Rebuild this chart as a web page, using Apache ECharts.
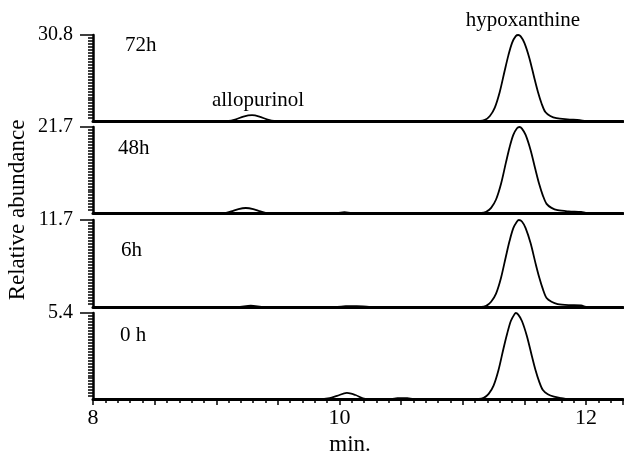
<!DOCTYPE html>
<html>
<head>
    <meta charset="utf-8" />
    <title>Chromatograms 0 h - 72h</title>
    <script src="https://cdn.jsdelivr.net/npm/echarts@6/dist/echarts.min.js"></script>
    <style>
        html, body { margin: 0; padding: 0; background: #fff; }
    </style>
</head>
<body>
    <div id="main" style="width: 624px;height:457px;"></div>
    <script type="text/javascript">
        // panels from top to bottom
        var panelNames = ['72h', '48h', '6h', '0 h'];
        var panelMax = [30.8, 21.7, 11.7, 5.4];
        var xLabels = [8, 10, 12];

        // [min, relative abundance]
        var trace72h = [
            [8, 0], [9.10, 0], [9.16, 0.6], [9.22, 1.6], [9.29, 2.1], [9.35, 1.6], [9.41, 0.6], [9.47, 0],
            [11.14, 0], [11.18, 0.4], [11.22, 1.8], [11.26, 4.8], [11.30, 10.4], [11.34, 18], [11.37, 23.5],
            [11.40, 28], [11.43, 30.4], [11.45, 30.8], [11.47, 30.3], [11.50, 28], [11.54, 22.6], [11.58, 15.5],
            [11.61, 10.4], [11.64, 6.2], [11.67, 3.2], [11.71, 1.8], [11.76, 1.0], [11.85, 0.6], [11.95, 0.3],
            [12.00, 0], [12.3, 0]
        ];
        var trace48h = [
            [8, 0], [9.06, 0], [9.12, 0.4], [9.18, 1.0], [9.24, 1.26], [9.30, 1.0], [9.36, 0.4], [9.42, 0],
            [9.98, 0], [10.04, 0.2], [10.10, 0],
            [11.15, 0], [11.19, 0.3], [11.23, 1.3], [11.27, 3.4], [11.31, 7.3], [11.35, 12.7], [11.38, 16.6],
            [11.41, 19.7], [11.44, 21.4], [11.46, 21.7], [11.48, 21.3], [11.51, 19.7], [11.55, 15.9], [11.59, 10.9],
            [11.62, 7.3], [11.65, 4.4], [11.68, 2.3], [11.72, 1.3], [11.77, 0.7], [11.86, 0.4], [11.96, 0.25],
            [12.01, 0], [12.3, 0]
        ];
        var trace6h = [
            [8, 0], [9.17, 0], [9.28, 0.18], [9.39, 0],
            [9.96, 0], [10.05, 0.1], [10.14, 0.13], [10.24, 0],
            [11.15, 0], [11.19, 0.15], [11.23, 0.7], [11.27, 1.8], [11.31, 3.9], [11.35, 6.8], [11.38, 8.9],
            [11.41, 10.6], [11.44, 11.5], [11.455, 11.7], [11.48, 11.5], [11.51, 10.6], [11.55, 8.6], [11.59, 5.9],
            [11.62, 4.0], [11.65, 2.4], [11.68, 1.2], [11.72, 0.7], [11.77, 0.4], [11.86, 0.25], [11.96, 0.2],
            [12.01, 0], [12.3, 0]
        ];
        var trace0h = [
            [8, 0], [9.83, 0], [9.92, 0.06], [9.98, 0.2], [10.06, 0.38], [10.13, 0.25], [10.21, 0],
            [10.42, 0], [10.47, 0.05], [10.55, 0.05], [10.60, 0],
            [11.13, 0], [11.17, 0.07], [11.21, 0.32], [11.25, 0.84], [11.29, 1.82], [11.33, 3.16], [11.36, 4.1],
            [11.39, 4.9], [11.42, 5.33], [11.43, 5.4], [11.45, 5.3], [11.48, 4.9], [11.52, 3.96], [11.56, 2.72],
            [11.59, 1.82], [11.62, 1.09], [11.65, 0.56], [11.69, 0.3], [11.74, 0.15], [11.80, 0.06],
            [11.85, 0], [12.3, 0]
        ];
        var traces = [trace72h, trace48h, trace6h, trace0h];

        var serif = '"Liberation Serif", "DejaVu Serif", serif';
        var gridTops = [35, 127, 220, 313];
        var gridHeights = [86, 86, 87, 86];
        var black = { color: '#000', width: 1.5 };

        var myChart = echarts.init(document.getElementById('main'));

        var grids = [], xAxes = [], yAxes = [], series = [];
        for (var i = 0; i < 4; i++) {
            var last = i === 3;
            grids.push({
                left: 93, right: 1, top: gridTops[i], height: gridHeights[i],
                containLabel: false, outerBoundsMode: 'none'
            });
            xAxes.push({
                type: 'value', gridIndex: i, min: 8, max: 12.3, interval: 0.5,
                axisLine: { lineStyle: { color: '#000', width: 3 } },
                axisTick: { show: last, length: 6, lineStyle: black },
                minorTick: { show: last, splitNumber: 5, length: 4, lineStyle: black },
                axisLabel: {
                    show: last, margin: 8, color: '#000', fontFamily: serif, fontSize: 22,
                    formatter: function (v) { return xLabels.indexOf(v) >= 0 ? String(v) : ''; }
                },
                splitLine: { show: false }
            });
            // dense minor ticks along the panel
            yAxes.push({
                type: 'value', gridIndex: i, position: 'left', min: 0, max: panelMax[i],
                interval: panelMax[i],
                axisLine: { show: true, lineStyle: { color: '#000', width: 2.5 } },
                axisTick: { show: false },
                minorTick: { show: true, splitNumber: 29, length: 5, lineStyle: black },
                axisLabel: { show: false },
                splitLine: { show: false }
            });
            // long tick + full-scale label at top
            yAxes.push({
                type: 'value', gridIndex: i, position: 'left', min: 0, max: panelMax[i],
                axisLine: { show: false },
                axisTick: { show: true, length: 13, customValues: [panelMax[i]], lineStyle: black },
                axisLabel: {
                    show: true, margin: 20, color: '#000', fontFamily: serif, fontSize: 20,
                    customValues: [panelMax[i]],
                    formatter: function (v) { return v.toFixed(1); }
                },
                splitLine: { show: false }
            });
            series.push({
                type: 'line', xAxisIndex: i, yAxisIndex: i * 2,
                data: traces[i], showSymbol: false, smooth: 0.3, clip: false,
                lineStyle: { color: '#000', width: 1.8 }, silent: true
            });
        }

        function label(text, x, y, size, align, rot) {
            return {
                type: 'text', x: x, y: y, rotation: rot || 0,
                style: {
                    text: text, fill: '#000', font: size + 'px ' + serif,
                    textAlign: align || 'left', textVerticalAlign: 'middle'
                }
            };
        }

        var option = {
            backgroundColor: '#fff',
            animation: false,
            grid: grids,
            xAxis: xAxes,
            yAxis: yAxes,
            series: series,
            graphic: [
                label(panelNames[0], 125, 45, 21),
                label(panelNames[1], 118, 148, 21),
                label(panelNames[2], 121, 250, 21),
                label(panelNames[3], 120, 335, 21),
                label('allopurinol', 258, 100, 21, 'center'),
                label('hypoxanthine', 523, 20, 21, 'center'),
                label('Relative abundance', 18, 210, 23, 'center', Math.PI / 2),
                label('min.', 350, 445, 23, 'center')
            ]
        };
        myChart.setOption(option);
    </script>
</body>
</html>
